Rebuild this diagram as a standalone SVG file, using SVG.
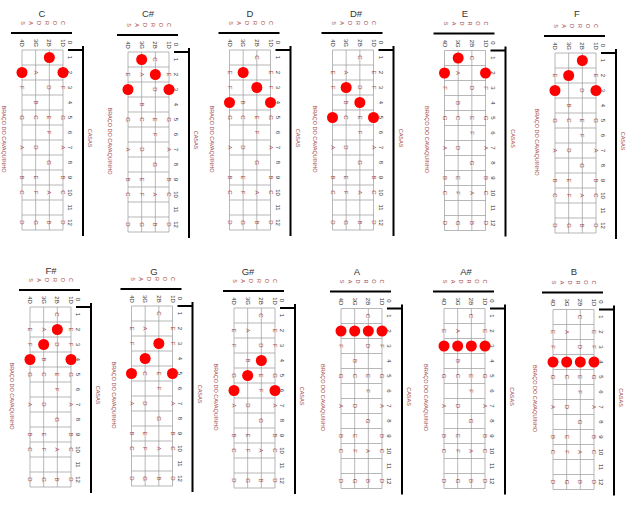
<svg xmlns="http://www.w3.org/2000/svg" width="640" height="512" viewBox="0 0 640 512">
<style>
text{font-family:"Liberation Sans",Arial,sans-serif}
.g{fill:none;stroke:#9a9a9a;stroke-width:.7}
.k{fill:none;stroke:#000;stroke-width:2}
.f{font-size:6px;fill:#333;text-anchor:middle;dominant-baseline:central}
.r{font-size:5.5px;fill:#a34a4a;text-anchor:middle;dominant-baseline:central}
.n{font-size:6px;fill:#a34a4a;text-anchor:middle;dominant-baseline:central}
.t{font-size:9.5px;font-weight:normal;fill:#333;text-anchor:middle;dominant-baseline:central}
.d{fill:#f00}
</style>
<rect width="640" height="512" fill="#fff"/>
<g id="chord-C"><text class="t" x="42" y="13">C</text><g transform="translate(63,50) rotate(90)"><path class="g" d="M0 0H180M0 13.67H180M0 27.33H180M0 41H180M0 0V41M15 0V41M30 0V41M45 0V41M60 0V41M75 0V41M90 0V41M105 0V41M120 0V41M135 0V41M150 0V41M165 0V41M180 0V41"/><path class="k" d="M-17 -9V52M-4 -20H186M0 -5V-20"/><g class="f" transform="translate(0,-7)"><text x="-7.5">0</text><text x="7.5">1</text><text x="22.5">2</text><text x="37.5">3</text><text x="52.5">4</text><text x="67.5">5</text><text x="82.5">6</text><text x="97.5">7</text><text x="112.5">8</text><text x="127.5">9</text><text x="142.5">10</text><text x="157.5">11</text><text x="172.5">12</text></g><g class="f"><text x="-7">1D</text><text x="-7" y="13.67">2B</text><text x="-7" y="27.33">3G</text><text x="-7" y="41">4D</text></g><g class="r"><text x="-27">C</text><text x="-27" y="8">O</text><text x="-27" y="16">R</text><text x="-27" y="24">D</text><text x="-27" y="32">A</text><text x="-27" y="40">S</text><text x="89" y="59">BRAÇO DO CAVAQUINHO</text><text x="88" y="-27">CASAS</text></g><g class="n"><text x="22.5">E</text><text x="37.5">F</text><text x="67.5">G</text><text x="97.5">A</text><text x="127.5">B</text><text x="142.5">C</text><text x="172.5">D</text></g><g class="n" transform="translate(0,13.67)"><text x="7.5">C</text><text x="37.5">D</text><text x="67.5">E</text><text x="82.5">F</text><text x="112.5">G</text><text x="142.5">A</text><text x="172.5">B</text></g><g class="n" transform="translate(0,27.33)"><text x="22.5">A</text><text x="52.5">B</text><text x="67.5">C</text><text x="97.5">D</text><text x="127.5">E</text><text x="142.5">F</text><text x="172.5">G</text></g><g class="n" transform="translate(0,41)"><text x="22.5">E</text><text x="37.5">F</text><text x="67.5">G</text><text x="97.5">A</text><text x="127.5">B</text><text x="142.5">C</text><text x="172.5">D</text></g>
<circle class="d" cx="7.5" cy="13.67" r="5.5"/><circle class="d" cx="22.5" cy="41" r="5.5"/><circle class="d" cx="22.5" cy="0" r="5.5"/></g></g>
<g id="chord-Csharp"><text class="t" x="148" y="13">C#</text><g transform="translate(169,52) rotate(90)"><path class="g" d="M0 0H180M0 13.67H180M0 27.33H180M0 41H180M0 0V41M15 0V41M30 0V41M45 0V41M60 0V41M75 0V41M90 0V41M105 0V41M120 0V41M135 0V41M150 0V41M165 0V41M180 0V41"/><path class="k" d="M-17 -9V52M-4 -20H186M0 -5V-20"/><g class="f" transform="translate(0,-7)"><text x="-7.5">0</text><text x="7.5">1</text><text x="22.5">2</text><text x="37.5">3</text><text x="52.5">4</text><text x="67.5">5</text><text x="82.5">6</text><text x="97.5">7</text><text x="112.5">8</text><text x="127.5">9</text><text x="142.5">10</text><text x="157.5">11</text><text x="172.5">12</text></g><g class="f"><text x="-7">1D</text><text x="-7" y="13.67">2B</text><text x="-7" y="27.33">3G</text><text x="-7" y="41">4D</text></g><g class="r"><text x="-27">C</text><text x="-27" y="8">O</text><text x="-27" y="16">R</text><text x="-27" y="24">D</text><text x="-27" y="32">A</text><text x="-27" y="40">S</text><text x="89" y="59">BRAÇO DO CAVAQUINHO</text><text x="88" y="-27">CASAS</text></g><g class="n"><text x="22.5">E</text><text x="37.5">F</text><text x="67.5">G</text><text x="97.5">A</text><text x="127.5">B</text><text x="142.5">C</text><text x="172.5">D</text></g><g class="n" transform="translate(0,13.67)"><text x="7.5">C</text><text x="37.5">D</text><text x="67.5">E</text><text x="82.5">F</text><text x="112.5">G</text><text x="142.5">A</text><text x="172.5">B</text></g><g class="n" transform="translate(0,27.33)"><text x="22.5">A</text><text x="52.5">B</text><text x="67.5">C</text><text x="97.5">D</text><text x="127.5">E</text><text x="142.5">F</text><text x="172.5">G</text></g><g class="n" transform="translate(0,41)"><text x="22.5">E</text><text x="37.5">F</text><text x="67.5">G</text><text x="97.5">A</text><text x="127.5">B</text><text x="142.5">C</text><text x="172.5">D</text></g>
<circle class="d" cx="7.5" cy="27.33" r="5.5"/><circle class="d" cx="22.5" cy="13.67" r="5.5"/><circle class="d" cx="37.5" cy="41" r="5.5"/><circle class="d" cx="37.5" cy="0" r="5.5"/></g></g>
<g id="chord-D"><text class="t" x="250" y="13">D</text><g transform="translate(270.5,50) rotate(90)"><path class="g" d="M0 0H180M0 13.67H180M0 27.33H180M0 41H180M0 0V41M15 0V41M30 0V41M45 0V41M60 0V41M75 0V41M90 0V41M105 0V41M120 0V41M135 0V41M150 0V41M165 0V41M180 0V41"/><path class="k" d="M-17 -9V52M-4 -20H186M0 -5V-20"/><g class="f" transform="translate(0,-7)"><text x="-7.5">0</text><text x="7.5">1</text><text x="22.5">2</text><text x="37.5">3</text><text x="52.5">4</text><text x="67.5">5</text><text x="82.5">6</text><text x="97.5">7</text><text x="112.5">8</text><text x="127.5">9</text><text x="142.5">10</text><text x="157.5">11</text><text x="172.5">12</text></g><g class="f"><text x="-7">1D</text><text x="-7" y="13.67">2B</text><text x="-7" y="27.33">3G</text><text x="-7" y="41">4D</text></g><g class="r"><text x="-27">C</text><text x="-27" y="8">O</text><text x="-27" y="16">R</text><text x="-27" y="24">D</text><text x="-27" y="32">A</text><text x="-27" y="40">S</text><text x="89" y="59">BRAÇO DO CAVAQUINHO</text><text x="88" y="-27">CASAS</text></g><g class="n"><text x="22.5">E</text><text x="37.5">F</text><text x="67.5">G</text><text x="97.5">A</text><text x="127.5">B</text><text x="142.5">C</text><text x="172.5">D</text></g><g class="n" transform="translate(0,13.67)"><text x="7.5">C</text><text x="37.5">D</text><text x="67.5">E</text><text x="82.5">F</text><text x="112.5">G</text><text x="142.5">A</text><text x="172.5">B</text></g><g class="n" transform="translate(0,27.33)"><text x="22.5">A</text><text x="52.5">B</text><text x="67.5">C</text><text x="97.5">D</text><text x="127.5">E</text><text x="142.5">F</text><text x="172.5">G</text></g><g class="n" transform="translate(0,41)"><text x="22.5">E</text><text x="37.5">F</text><text x="67.5">G</text><text x="97.5">A</text><text x="127.5">B</text><text x="142.5">C</text><text x="172.5">D</text></g>
<circle class="d" cx="22.5" cy="27.33" r="5.5"/><circle class="d" cx="37.5" cy="13.67" r="5.5"/><circle class="d" cx="52.5" cy="41" r="5.5"/><circle class="d" cx="52.5" cy="0" r="5.5"/></g></g>
<g id="chord-Dsharp"><text class="t" x="356" y="13">D#</text><g transform="translate(373.5,50) rotate(90)"><path class="g" d="M0 0H180M0 13.67H180M0 27.33H180M0 41H180M0 0V41M15 0V41M30 0V41M45 0V41M60 0V41M75 0V41M90 0V41M105 0V41M120 0V41M135 0V41M150 0V41M165 0V41M180 0V41"/><path class="k" d="M-17 -9V52M-4 -20H186M0 -5V-20"/><g class="f" transform="translate(0,-7)"><text x="-7.5">0</text><text x="7.5">1</text><text x="22.5">2</text><text x="37.5">3</text><text x="52.5">4</text><text x="67.5">5</text><text x="82.5">6</text><text x="97.5">7</text><text x="112.5">8</text><text x="127.5">9</text><text x="142.5">10</text><text x="157.5">11</text><text x="172.5">12</text></g><g class="f"><text x="-7">1D</text><text x="-7" y="13.67">2B</text><text x="-7" y="27.33">3G</text><text x="-7" y="41">4D</text></g><g class="r"><text x="-27">C</text><text x="-27" y="8">O</text><text x="-27" y="16">R</text><text x="-27" y="24">D</text><text x="-27" y="32">A</text><text x="-27" y="40">S</text><text x="89" y="59">BRAÇO DO CAVAQUINHO</text><text x="88" y="-27">CASAS</text></g><g class="n"><text x="22.5">E</text><text x="37.5">F</text><text x="67.5">G</text><text x="97.5">A</text><text x="127.5">B</text><text x="142.5">C</text><text x="172.5">D</text></g><g class="n" transform="translate(0,13.67)"><text x="7.5">C</text><text x="37.5">D</text><text x="67.5">E</text><text x="82.5">F</text><text x="112.5">G</text><text x="142.5">A</text><text x="172.5">B</text></g><g class="n" transform="translate(0,27.33)"><text x="22.5">A</text><text x="52.5">B</text><text x="67.5">C</text><text x="97.5">D</text><text x="127.5">E</text><text x="142.5">F</text><text x="172.5">G</text></g><g class="n" transform="translate(0,41)"><text x="22.5">E</text><text x="37.5">F</text><text x="67.5">G</text><text x="97.5">A</text><text x="127.5">B</text><text x="142.5">C</text><text x="172.5">D</text></g>
<circle class="d" cx="37.5" cy="27.33" r="5.5"/><circle class="d" cx="52.5" cy="13.67" r="5.5"/><circle class="d" cx="67.5" cy="41" r="5.5"/><circle class="d" cx="67.5" cy="0" r="5.5"/></g></g>
<g id="chord-E"><text class="t" x="465" y="13">E</text><g transform="translate(485.5,50.5) rotate(90)"><path class="g" d="M0 0H180M0 13.67H180M0 27.33H180M0 41H180M0 0V41M15 0V41M30 0V41M45 0V41M60 0V41M75 0V41M90 0V41M105 0V41M120 0V41M135 0V41M150 0V41M165 0V41M180 0V41"/><path class="k" d="M-17 -9V52M-4 -20H186M0 -5V-20"/><g class="f" transform="translate(0,-7)"><text x="-7.5">0</text><text x="7.5">1</text><text x="22.5">2</text><text x="37.5">3</text><text x="52.5">4</text><text x="67.5">5</text><text x="82.5">6</text><text x="97.5">7</text><text x="112.5">8</text><text x="127.5">9</text><text x="142.5">10</text><text x="157.5">11</text><text x="172.5">12</text></g><g class="f"><text x="-7">1D</text><text x="-7" y="13.67">2B</text><text x="-7" y="27.33">3G</text><text x="-7" y="41">4D</text></g><g class="r"><text x="-27">C</text><text x="-27" y="8">O</text><text x="-27" y="16">R</text><text x="-27" y="24">D</text><text x="-27" y="32">A</text><text x="-27" y="40">S</text><text x="89" y="59">BRAÇO DO CAVAQUINHO</text><text x="88" y="-27">CASAS</text></g><g class="n"><text x="22.5">E</text><text x="37.5">F</text><text x="67.5">G</text><text x="97.5">A</text><text x="127.5">B</text><text x="142.5">C</text><text x="172.5">D</text></g><g class="n" transform="translate(0,13.67)"><text x="7.5">C</text><text x="37.5">D</text><text x="67.5">E</text><text x="82.5">F</text><text x="112.5">G</text><text x="142.5">A</text><text x="172.5">B</text></g><g class="n" transform="translate(0,27.33)"><text x="22.5">A</text><text x="52.5">B</text><text x="67.5">C</text><text x="97.5">D</text><text x="127.5">E</text><text x="142.5">F</text><text x="172.5">G</text></g><g class="n" transform="translate(0,41)"><text x="22.5">E</text><text x="37.5">F</text><text x="67.5">G</text><text x="97.5">A</text><text x="127.5">B</text><text x="142.5">C</text><text x="172.5">D</text></g>
<circle class="d" cx="7.5" cy="27.33" r="5.5"/><circle class="d" cx="22.5" cy="41" r="5.5"/><circle class="d" cx="22.5" cy="0" r="5.5"/></g></g>
<g id="chord-F"><text class="t" x="577" y="13">F</text><g transform="translate(596,53) rotate(90)"><path class="g" d="M0 0H180M0 13.67H180M0 27.33H180M0 41H180M0 0V41M15 0V41M30 0V41M45 0V41M60 0V41M75 0V41M90 0V41M105 0V41M120 0V41M135 0V41M150 0V41M165 0V41M180 0V41"/><path class="k" d="M-17 -9V52M-4 -20H186M0 -5V-20"/><g class="f" transform="translate(0,-7)"><text x="-7.5">0</text><text x="7.5">1</text><text x="22.5">2</text><text x="37.5">3</text><text x="52.5">4</text><text x="67.5">5</text><text x="82.5">6</text><text x="97.5">7</text><text x="112.5">8</text><text x="127.5">9</text><text x="142.5">10</text><text x="157.5">11</text><text x="172.5">12</text></g><g class="f"><text x="-7">1D</text><text x="-7" y="13.67">2B</text><text x="-7" y="27.33">3G</text><text x="-7" y="41">4D</text></g><g class="r"><text x="-27">C</text><text x="-27" y="8">O</text><text x="-27" y="16">R</text><text x="-27" y="24">D</text><text x="-27" y="32">A</text><text x="-27" y="40">S</text><text x="89" y="59">BRAÇO DO CAVAQUINHO</text><text x="88" y="-27">CASAS</text></g><g class="n"><text x="22.5">E</text><text x="37.5">F</text><text x="67.5">G</text><text x="97.5">A</text><text x="127.5">B</text><text x="142.5">C</text><text x="172.5">D</text></g><g class="n" transform="translate(0,13.67)"><text x="7.5">C</text><text x="37.5">D</text><text x="67.5">E</text><text x="82.5">F</text><text x="112.5">G</text><text x="142.5">A</text><text x="172.5">B</text></g><g class="n" transform="translate(0,27.33)"><text x="22.5">A</text><text x="52.5">B</text><text x="67.5">C</text><text x="97.5">D</text><text x="127.5">E</text><text x="142.5">F</text><text x="172.5">G</text></g><g class="n" transform="translate(0,41)"><text x="22.5">E</text><text x="37.5">F</text><text x="67.5">G</text><text x="97.5">A</text><text x="127.5">B</text><text x="142.5">C</text><text x="172.5">D</text></g>
<circle class="d" cx="7.5" cy="13.67" r="5.5"/><circle class="d" cx="22.5" cy="27.33" r="5.5"/><circle class="d" cx="37.5" cy="41" r="5.5"/><circle class="d" cx="37.5" cy="0" r="5.5"/></g></g>
<g id="chord-Fsharp"><text class="t" x="51" y="270">F#</text><g transform="translate(71,307) rotate(90)"><path class="g" d="M0 0H180M0 13.67H180M0 27.33H180M0 41H180M0 0V41M15 0V41M30 0V41M45 0V41M60 0V41M75 0V41M90 0V41M105 0V41M120 0V41M135 0V41M150 0V41M165 0V41M180 0V41"/><path class="k" d="M-17 -9V52M-4 -20H186M0 -5V-20"/><g class="f" transform="translate(0,-7)"><text x="-7.5">0</text><text x="7.5">1</text><text x="22.5">2</text><text x="37.5">3</text><text x="52.5">4</text><text x="67.5">5</text><text x="82.5">6</text><text x="97.5">7</text><text x="112.5">8</text><text x="127.5">9</text><text x="142.5">10</text><text x="157.5">11</text><text x="172.5">12</text></g><g class="f"><text x="-7">1D</text><text x="-7" y="13.67">2B</text><text x="-7" y="27.33">3G</text><text x="-7" y="41">4D</text></g><g class="r"><text x="-27">C</text><text x="-27" y="8">O</text><text x="-27" y="16">R</text><text x="-27" y="24">D</text><text x="-27" y="32">A</text><text x="-27" y="40">S</text><text x="89" y="59">BRAÇO DO CAVAQUINHO</text><text x="88" y="-27">CASAS</text></g><g class="n"><text x="22.5">E</text><text x="37.5">F</text><text x="67.5">G</text><text x="97.5">A</text><text x="127.5">B</text><text x="142.5">C</text><text x="172.5">D</text></g><g class="n" transform="translate(0,13.67)"><text x="7.5">C</text><text x="37.5">D</text><text x="67.5">E</text><text x="82.5">F</text><text x="112.5">G</text><text x="142.5">A</text><text x="172.5">B</text></g><g class="n" transform="translate(0,27.33)"><text x="22.5">A</text><text x="52.5">B</text><text x="67.5">C</text><text x="97.5">D</text><text x="127.5">E</text><text x="142.5">F</text><text x="172.5">G</text></g><g class="n" transform="translate(0,41)"><text x="22.5">E</text><text x="37.5">F</text><text x="67.5">G</text><text x="97.5">A</text><text x="127.5">B</text><text x="142.5">C</text><text x="172.5">D</text></g>
<circle class="d" cx="22.5" cy="13.67" r="5.5"/><circle class="d" cx="37.5" cy="27.33" r="5.5"/><circle class="d" cx="52.5" cy="41" r="5.5"/><circle class="d" cx="52.5" cy="0" r="5.5"/></g></g>
<g id="chord-G"><text class="t" x="154" y="271">G</text><g transform="translate(172.5,306) rotate(90)"><path class="g" d="M0 0H180M0 13.67H180M0 27.33H180M0 41H180M0 0V41M15 0V41M30 0V41M45 0V41M60 0V41M75 0V41M90 0V41M105 0V41M120 0V41M135 0V41M150 0V41M165 0V41M180 0V41"/><path class="k" d="M-17 -9V52M-4 -20H186M0 -5V-20"/><g class="f" transform="translate(0,-7)"><text x="-7.5">0</text><text x="7.5">1</text><text x="22.5">2</text><text x="37.5">3</text><text x="52.5">4</text><text x="67.5">5</text><text x="82.5">6</text><text x="97.5">7</text><text x="112.5">8</text><text x="127.5">9</text><text x="142.5">10</text><text x="157.5">11</text><text x="172.5">12</text></g><g class="f"><text x="-7">1D</text><text x="-7" y="13.67">2B</text><text x="-7" y="27.33">3G</text><text x="-7" y="41">4D</text></g><g class="r"><text x="-27">C</text><text x="-27" y="8">O</text><text x="-27" y="16">R</text><text x="-27" y="24">D</text><text x="-27" y="32">A</text><text x="-27" y="40">S</text><text x="89" y="59">BRAÇO DO CAVAQUINHO</text><text x="88" y="-27">CASAS</text></g><g class="n"><text x="22.5">E</text><text x="37.5">F</text><text x="67.5">G</text><text x="97.5">A</text><text x="127.5">B</text><text x="142.5">C</text><text x="172.5">D</text></g><g class="n" transform="translate(0,13.67)"><text x="7.5">C</text><text x="37.5">D</text><text x="67.5">E</text><text x="82.5">F</text><text x="112.5">G</text><text x="142.5">A</text><text x="172.5">B</text></g><g class="n" transform="translate(0,27.33)"><text x="22.5">A</text><text x="52.5">B</text><text x="67.5">C</text><text x="97.5">D</text><text x="127.5">E</text><text x="142.5">F</text><text x="172.5">G</text></g><g class="n" transform="translate(0,41)"><text x="22.5">E</text><text x="37.5">F</text><text x="67.5">G</text><text x="97.5">A</text><text x="127.5">B</text><text x="142.5">C</text><text x="172.5">D</text></g>
<circle class="d" cx="37.5" cy="13.67" r="5.5"/><circle class="d" cx="52.5" cy="27.33" r="5.5"/><circle class="d" cx="67.5" cy="41" r="5.5"/><circle class="d" cx="67.5" cy="0" r="5.5"/></g></g>
<g id="chord-Gsharp"><text class="t" x="248" y="271">G#</text><g transform="translate(275,308) rotate(90)"><path class="g" d="M0 0H180M0 13.67H180M0 27.33H180M0 41H180M0 0V41M15 0V41M30 0V41M45 0V41M60 0V41M75 0V41M90 0V41M105 0V41M120 0V41M135 0V41M150 0V41M165 0V41M180 0V41"/><path class="k" d="M-17 -9V52M-4 -20H186M0 -5V-20"/><g class="f" transform="translate(0,-7)"><text x="-7.5">0</text><text x="7.5">1</text><text x="22.5">2</text><text x="37.5">3</text><text x="52.5">4</text><text x="67.5">5</text><text x="82.5">6</text><text x="97.5">7</text><text x="112.5">8</text><text x="127.5">9</text><text x="142.5">10</text><text x="157.5">11</text><text x="172.5">12</text></g><g class="f"><text x="-7">1D</text><text x="-7" y="13.67">2B</text><text x="-7" y="27.33">3G</text><text x="-7" y="41">4D</text></g><g class="r"><text x="-27">C</text><text x="-27" y="8">O</text><text x="-27" y="16">R</text><text x="-27" y="24">D</text><text x="-27" y="32">A</text><text x="-27" y="40">S</text><text x="89" y="59">BRAÇO DO CAVAQUINHO</text><text x="88" y="-27">CASAS</text></g><g class="n"><text x="22.5">E</text><text x="37.5">F</text><text x="67.5">G</text><text x="97.5">A</text><text x="127.5">B</text><text x="142.5">C</text><text x="172.5">D</text></g><g class="n" transform="translate(0,13.67)"><text x="7.5">C</text><text x="37.5">D</text><text x="67.5">E</text><text x="82.5">F</text><text x="112.5">G</text><text x="142.5">A</text><text x="172.5">B</text></g><g class="n" transform="translate(0,27.33)"><text x="22.5">A</text><text x="52.5">B</text><text x="67.5">C</text><text x="97.5">D</text><text x="127.5">E</text><text x="142.5">F</text><text x="172.5">G</text></g><g class="n" transform="translate(0,41)"><text x="22.5">E</text><text x="37.5">F</text><text x="67.5">G</text><text x="97.5">A</text><text x="127.5">B</text><text x="142.5">C</text><text x="172.5">D</text></g>
<circle class="d" cx="52.5" cy="13.67" r="5.5"/><circle class="d" cx="67.5" cy="27.33" r="5.5"/><circle class="d" cx="82.5" cy="41" r="5.5"/><circle class="d" cx="82.5" cy="0" r="5.5"/></g></g>
<g id="chord-A"><text class="t" x="357" y="271">A</text><g transform="translate(382,308.5) rotate(90)"><path class="g" d="M0 0H180M0 13.67H180M0 27.33H180M0 41H180M0 0V41M15 0V41M30 0V41M45 0V41M60 0V41M75 0V41M90 0V41M105 0V41M120 0V41M135 0V41M150 0V41M165 0V41M180 0V41"/><path class="k" d="M-17 -9V52M-4 -20H186M0 -5V-20"/><g class="f" transform="translate(0,-7)"><text x="-7.5">0</text><text x="7.5">1</text><text x="22.5">2</text><text x="37.5">3</text><text x="52.5">4</text><text x="67.5">5</text><text x="82.5">6</text><text x="97.5">7</text><text x="112.5">8</text><text x="127.5">9</text><text x="142.5">10</text><text x="157.5">11</text><text x="172.5">12</text></g><g class="f"><text x="-7">1D</text><text x="-7" y="13.67">2B</text><text x="-7" y="27.33">3G</text><text x="-7" y="41">4D</text></g><g class="r"><text x="-27">C</text><text x="-27" y="8">O</text><text x="-27" y="16">R</text><text x="-27" y="24">D</text><text x="-27" y="32">A</text><text x="-27" y="40">S</text><text x="89" y="59">BRAÇO DO CAVAQUINHO</text><text x="88" y="-27">CASAS</text></g><g class="n"><text x="22.5">E</text><text x="37.5">F</text><text x="67.5">G</text><text x="97.5">A</text><text x="127.5">B</text><text x="142.5">C</text><text x="172.5">D</text></g><g class="n" transform="translate(0,13.67)"><text x="7.5">C</text><text x="37.5">D</text><text x="67.5">E</text><text x="82.5">F</text><text x="112.5">G</text><text x="142.5">A</text><text x="172.5">B</text></g><g class="n" transform="translate(0,27.33)"><text x="22.5">A</text><text x="52.5">B</text><text x="67.5">C</text><text x="97.5">D</text><text x="127.5">E</text><text x="142.5">F</text><text x="172.5">G</text></g><g class="n" transform="translate(0,41)"><text x="22.5">E</text><text x="37.5">F</text><text x="67.5">G</text><text x="97.5">A</text><text x="127.5">B</text><text x="142.5">C</text><text x="172.5">D</text></g>
<circle class="d" cx="22.5" cy="0" r="5.5"/><circle class="d" cx="22.5" cy="13.67" r="5.5"/><circle class="d" cx="22.5" cy="27.33" r="5.5"/><circle class="d" cx="22.5" cy="41" r="5.5"/></g></g>
<g id="chord-Asharp"><text class="t" x="466" y="271">A#</text><g transform="translate(485,308.5) rotate(90)"><path class="g" d="M0 0H180M0 13.67H180M0 27.33H180M0 41H180M0 0V41M15 0V41M30 0V41M45 0V41M60 0V41M75 0V41M90 0V41M105 0V41M120 0V41M135 0V41M150 0V41M165 0V41M180 0V41"/><path class="k" d="M-17 -9V52M-4 -20H186M0 -5V-20"/><g class="f" transform="translate(0,-7)"><text x="-7.5">0</text><text x="7.5">1</text><text x="22.5">2</text><text x="37.5">3</text><text x="52.5">4</text><text x="67.5">5</text><text x="82.5">6</text><text x="97.5">7</text><text x="112.5">8</text><text x="127.5">9</text><text x="142.5">10</text><text x="157.5">11</text><text x="172.5">12</text></g><g class="f"><text x="-7">1D</text><text x="-7" y="13.67">2B</text><text x="-7" y="27.33">3G</text><text x="-7" y="41">4D</text></g><g class="r"><text x="-27">C</text><text x="-27" y="8">O</text><text x="-27" y="16">R</text><text x="-27" y="24">D</text><text x="-27" y="32">A</text><text x="-27" y="40">S</text><text x="89" y="59">BRAÇO DO CAVAQUINHO</text><text x="88" y="-27">CASAS</text></g><g class="n"><text x="22.5">E</text><text x="37.5">F</text><text x="67.5">G</text><text x="97.5">A</text><text x="127.5">B</text><text x="142.5">C</text><text x="172.5">D</text></g><g class="n" transform="translate(0,13.67)"><text x="7.5">C</text><text x="37.5">D</text><text x="67.5">E</text><text x="82.5">F</text><text x="112.5">G</text><text x="142.5">A</text><text x="172.5">B</text></g><g class="n" transform="translate(0,27.33)"><text x="22.5">A</text><text x="52.5">B</text><text x="67.5">C</text><text x="97.5">D</text><text x="127.5">E</text><text x="142.5">F</text><text x="172.5">G</text></g><g class="n" transform="translate(0,41)"><text x="22.5">E</text><text x="37.5">F</text><text x="67.5">G</text><text x="97.5">A</text><text x="127.5">B</text><text x="142.5">C</text><text x="172.5">D</text></g>
<circle class="d" cx="37.5" cy="0" r="5.5"/><circle class="d" cx="37.5" cy="13.67" r="5.5"/><circle class="d" cx="37.5" cy="27.33" r="5.5"/><circle class="d" cx="37.5" cy="41" r="5.5"/></g></g>
<g id="chord-B"><text class="t" x="574" y="271">B</text><g transform="translate(594,309.5) rotate(90)"><path class="g" d="M0 0H180M0 13.67H180M0 27.33H180M0 41H180M0 0V41M15 0V41M30 0V41M45 0V41M60 0V41M75 0V41M90 0V41M105 0V41M120 0V41M135 0V41M150 0V41M165 0V41M180 0V41"/><path class="k" d="M-17 -9V52M-4 -20H186M0 -5V-20"/><g class="f" transform="translate(0,-7)"><text x="-7.5">0</text><text x="7.5">1</text><text x="22.5">2</text><text x="37.5">3</text><text x="52.5">4</text><text x="67.5">5</text><text x="82.5">6</text><text x="97.5">7</text><text x="112.5">8</text><text x="127.5">9</text><text x="142.5">10</text><text x="157.5">11</text><text x="172.5">12</text></g><g class="f"><text x="-7">1D</text><text x="-7" y="13.67">2B</text><text x="-7" y="27.33">3G</text><text x="-7" y="41">4D</text></g><g class="r"><text x="-27">C</text><text x="-27" y="8">O</text><text x="-27" y="16">R</text><text x="-27" y="24">D</text><text x="-27" y="32">A</text><text x="-27" y="40">S</text><text x="89" y="59">BRAÇO DO CAVAQUINHO</text><text x="88" y="-27">CASAS</text></g><g class="n"><text x="22.5">E</text><text x="37.5">F</text><text x="67.5">G</text><text x="97.5">A</text><text x="127.5">B</text><text x="142.5">C</text><text x="172.5">D</text></g><g class="n" transform="translate(0,13.67)"><text x="7.5">C</text><text x="37.5">D</text><text x="67.5">E</text><text x="82.5">F</text><text x="112.5">G</text><text x="142.5">A</text><text x="172.5">B</text></g><g class="n" transform="translate(0,27.33)"><text x="22.5">A</text><text x="52.5">B</text><text x="67.5">C</text><text x="97.5">D</text><text x="127.5">E</text><text x="142.5">F</text><text x="172.5">G</text></g><g class="n" transform="translate(0,41)"><text x="22.5">E</text><text x="37.5">F</text><text x="67.5">G</text><text x="97.5">A</text><text x="127.5">B</text><text x="142.5">C</text><text x="172.5">D</text></g>
<circle class="d" cx="52.5" cy="0" r="5.5"/><circle class="d" cx="52.5" cy="13.67" r="5.5"/><circle class="d" cx="52.5" cy="27.33" r="5.5"/><circle class="d" cx="52.5" cy="41" r="5.5"/></g></g>
</svg>
